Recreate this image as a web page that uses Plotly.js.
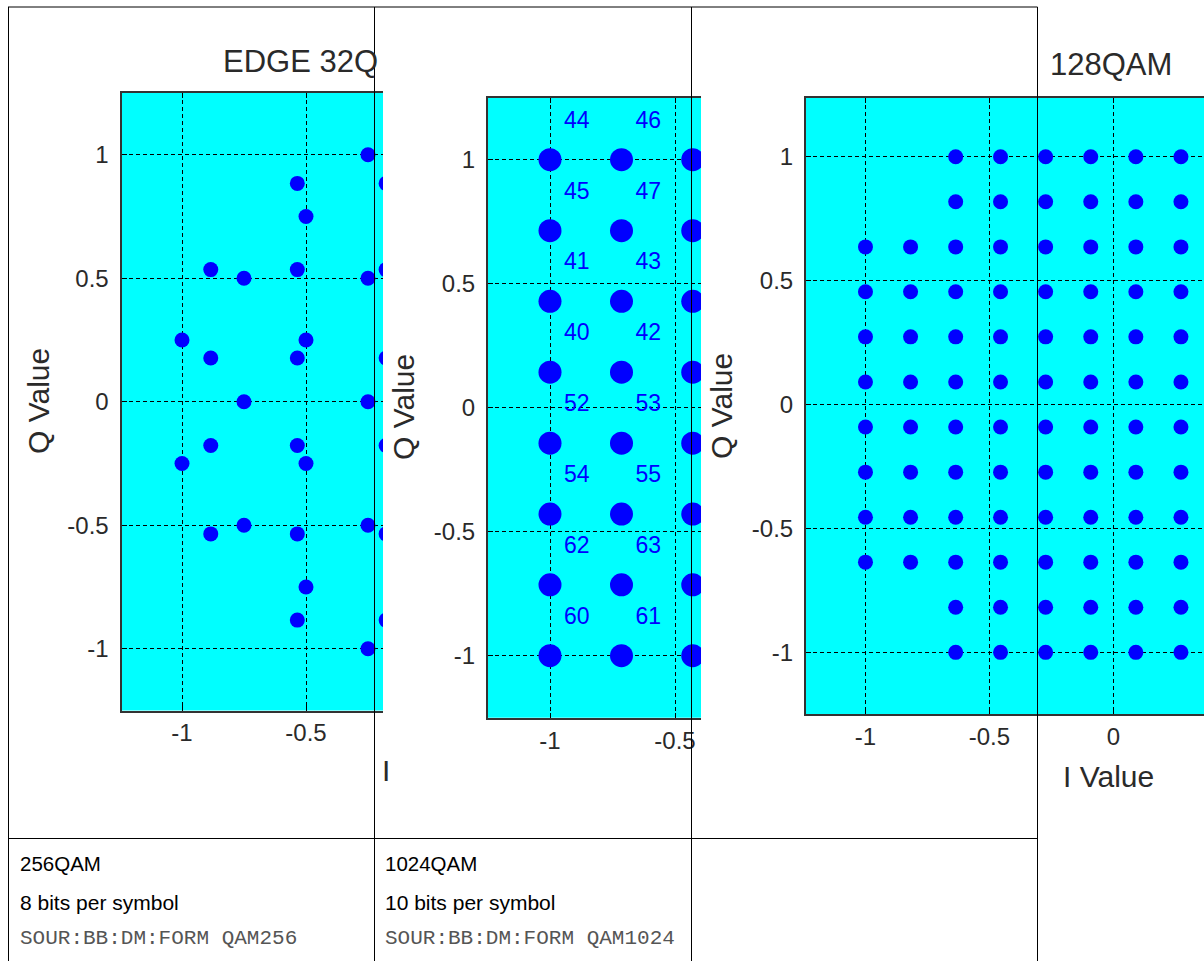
<!DOCTYPE html>
<html>
<head>
<meta charset="utf-8">
<script src="https://cdn.plot.ly/plotly-3.0.1.min.js"></script>
<style>
  html, body { margin: 0; padding: 0; background: #ffffff; overflow: hidden; }
  #chart { width: 1204px; height: 961px; }
</style>
</head>
<body>
<div id="chart"></div>
<script>
// ================= DATA =================
// Panel 1: EDGE 32QAM (visible part of the constellation)
const edgeI = [-0.25, -0.5, -0.75, -0.25, -1, -0.5, -0.75, -0.25, -1, -0.5, -0.75, -0.25, -0.5, -0.25,
               -0.535, -0.177, -0.884, -0.535, -0.177, -0.884, -0.535, -0.177,
               -0.884, -0.535, -0.177, -0.884, -0.535, -0.177, -0.535, -0.177];
const edgeQ = [1, 0.75, 0.5, 0.5, 0.25, 0.25, 0, 0, -0.25, -0.25, -0.5, -0.5, -0.75, -1,
               0.884, 0.884, 0.535, 0.535, 0.535, 0.177, 0.177, 0.177,
               -0.177, -0.177, -0.177, -0.535, -0.535, -0.535, -0.884, -0.884];

// Panel 2: 64QAM with symbol numbers (visible columns)
const qam64Cols = [-1, -0.714, -0.429];
const qam64Rows = [1, 0.714, 0.429, 0.143, -0.143, -0.429, -0.714, -1];
const qam64Labels = [
  ["44", "45", "41", "40", "52", "54", "62", "60"],   // column I = -1
  ["46", "47", "43", "42", "53", "55", "63", "61"]    // column I = -0.714
];

// Panel 3: 128QAM cross constellation (visible columns)
const qam128OuterI = [-0.636, -0.455, -0.273, -0.091, 0.091, 0.273];
const qam128InnerI = [-1, -0.818, -0.636, -0.455, -0.273, -0.091, 0.091, 0.273];
const qam128OuterQ = [1, 0.818, -0.818, -1];
const qam128InnerQ = [0.636, 0.455, 0.273, 0.091, -0.091, -0.273, -0.455, -0.636];

// Tick labels
const tickVals = [-1, -0.5, 0, 0.5, 1];
const tickText = ["-1", "-0.5", "0", "0.5", "1"];

// Texts
const panelTitles = ["EDGE 32Q", "128QAM"];
const axisTitleI = "I Value";
const axisTitleQ = "Q Value";
const cellNames = ["256QAM", "1024QAM"];
const cellBits = ["8 bits per symbol", "10 bits per symbol"];
const cellCmds = ["SOUR:BB:DM:FORM QAM256", "SOUR:BB:DM:FORM QAM1024"];

// ================= BUILD POINTS =================
const q64I = [], q64Q = [];
qam64Cols.forEach(function (c) { qam64Rows.forEach(function (r) { q64I.push(c); q64Q.push(r); }); });
const LBL_DX = 0.107, LBL_DY = 0.152;
const lblI = [], lblQ = [], lblT = [];
qam64Labels.forEach(function (col, ci) {
  col.forEach(function (t, ri) {
    lblI.push(qam64Cols[ci] + LBL_DX);
    lblQ.push(qam64Rows[ri] + LBL_DY);
    lblT.push(t);
  });
});
const q128I = [], q128Q = [];
qam128OuterQ.forEach(function (q) { qam128OuterI.forEach(function (i) { q128I.push(i); q128Q.push(q); }); });
qam128InnerQ.forEach(function (q) { qam128InnerI.forEach(function (i) { q128I.push(i); q128Q.push(q); }); });

// ================= LAYOUT HELPERS =================
const W = 1204, H = 961;
function PX(x) { return x / W; }
function PY(y) { return 1 - y / H; }
const FONT = "Liberation Sans, Arial, Helvetica, sans-serif";
const BLUE = "#0000FF";
const TXT = "#2a2a2a";

// plot areas in pixels, with their visible ranges
const panels = [
  { x0: 121.5, x1: 383, y0: 93, y1: 710.5, xr: [-1.244, -0.1895], yr: [-1.25, 1.25] },
  { x0: 488, x1: 701, y0: 97.7, y1: 717.7, xr: [-1.248, -0.396], yr: [-1.25, 1.25] },
  { x0: 806, x1: 1204, y0: 97.7, y1: 714.3, xr: [-1.24, 0.366], yr: [-1.25, 1.238] }
];

function axisCommon() {
  return {
    tickmode: "array", tickvals: tickVals, ticktext: tickText,
    showgrid: true, gridcolor: "#000000", gridwidth: 1, griddash: "4px,3px",
    zeroline: false, showline: true, linecolor: "#333333", linewidth: 2,
    ticks: "inside", ticklen: 5, tickcolor: "#000000", tickwidth: 1,
    tickfont: { family: FONT, size: 24, color: TXT },
    fixedrange: true
  };
}

const layout = {
  width: W, height: H,
  margin: { l: 0, r: 0, t: 0, b: 0, pad: 0 },
  paper_bgcolor: "#ffffff",
  plot_bgcolor: "#00FFFF",
  showlegend: false,
  font: { family: FONT },
  shapes: [],
  annotations: []
};

panels.forEach(function (p, k) {
  const n = k === 0 ? "" : String(k + 1);
  const xa = axisCommon(), ya = axisCommon();
  xa.domain = [PX(p.x0), PX(p.x1)];
  xa.range = p.xr;
  xa.anchor = "y" + n;
  xa.mirror = "ticks";
  xa.ticklabelstandoff = 0;
  ya.domain = [PY(p.y1), PY(p.y0)];
  ya.range = p.yr;
  ya.anchor = "x" + n;
  ya.mirror = false;
  ya.ticklabelstandoff = 6;
  layout["xaxis" + n] = xa;
  layout["yaxis" + n] = ya;
});

// table lines
function line(x0, y0, x1, y1) {
  return { type: "line", xref: "paper", yref: "paper", layer: "above",
           x0: PX(x0), y0: PY(y0), x1: PX(x1), y1: PY(y1),
           line: { color: "#000000", width: 1 } };
}
layout.shapes.push(line(8, 7, 1037.5, 7));
layout.shapes.push(line(8, 838.5, 1037.5, 838.5));
[8.5, 374.5, 691.5, 1037.5].forEach(function (x) { layout.shapes.push(line(x, 7, x, H + 2)); });

function ann(text, x, y, opts) {
  const a = Object.assign({
    text: text, xref: "paper", yref: "paper", x: PX(x), y: PY(y),
    showarrow: false, xanchor: "center", yanchor: "middle",
    font: { family: FONT, size: 30, color: TXT }
  }, opts || {});
  layout.annotations.push(a);
}
// panel titles
ann(panelTitles[0], 221, 62, { xanchor: "left", font: { family: FONT, size: 31, color: TXT } });
ann(panelTitles[1], 1111, 64, { font: { family: FONT, size: 31, color: TXT } });
// axis titles
ann(axisTitleQ, 38, 401, { textangle: -90 });
ann(axisTitleQ, 403, 407, { textangle: -90 });
ann(axisTitleQ, 721, 406, { textangle: -90 });
ann(axisTitleI, 1108, 776, {});
ann(axisTitleI.charAt(0), 380, 770, { xanchor: "left" });
// table cell texts
const cellX = [18, 383];
cellX.forEach(function (x, i) {
  ann(cellNames[i], x, 863, { xanchor: "left", font: { family: FONT, size: 20.5, color: "#000000" } });
  ann(cellBits[i], x, 902, { xanchor: "left", font: { family: FONT, size: 21, color: "#000000" } });
  ann(cellCmds[i], x, 938, { xanchor: "left", font: { family: "Liberation Mono, Courier New, monospace", size: 21, color: "#555555" } });
});

// ================= TRACES =================
const traces = [
  { type: "scatter", mode: "markers", x: edgeI, y: edgeQ, xaxis: "x", yaxis: "y",
    marker: { color: BLUE, size: 15, line: { width: 0 } }, cliponaxis: true, hoverinfo: "skip" },
  { type: "scatter", mode: "markers", x: q64I, y: q64Q, xaxis: "x2", yaxis: "y2",
    marker: { color: BLUE, size: 23, line: { width: 0 } }, cliponaxis: true, hoverinfo: "skip" },
  { type: "scatter", mode: "text", x: lblI, y: lblQ, text: lblT, xaxis: "x2", yaxis: "y2",
    textposition: "middle center", textfont: { family: FONT, size: 23, color: BLUE },
    cliponaxis: true, hoverinfo: "skip" },
  { type: "scatter", mode: "markers", x: q128I, y: q128Q, xaxis: "x3", yaxis: "y3",
    marker: { color: BLUE, size: 15, line: { width: 0 } }, cliponaxis: true, hoverinfo: "skip" }
];

Plotly.newPlot("chart", traces, layout, { staticPlot: true, displayModeBar: false });
</script>
</body>
</html>
